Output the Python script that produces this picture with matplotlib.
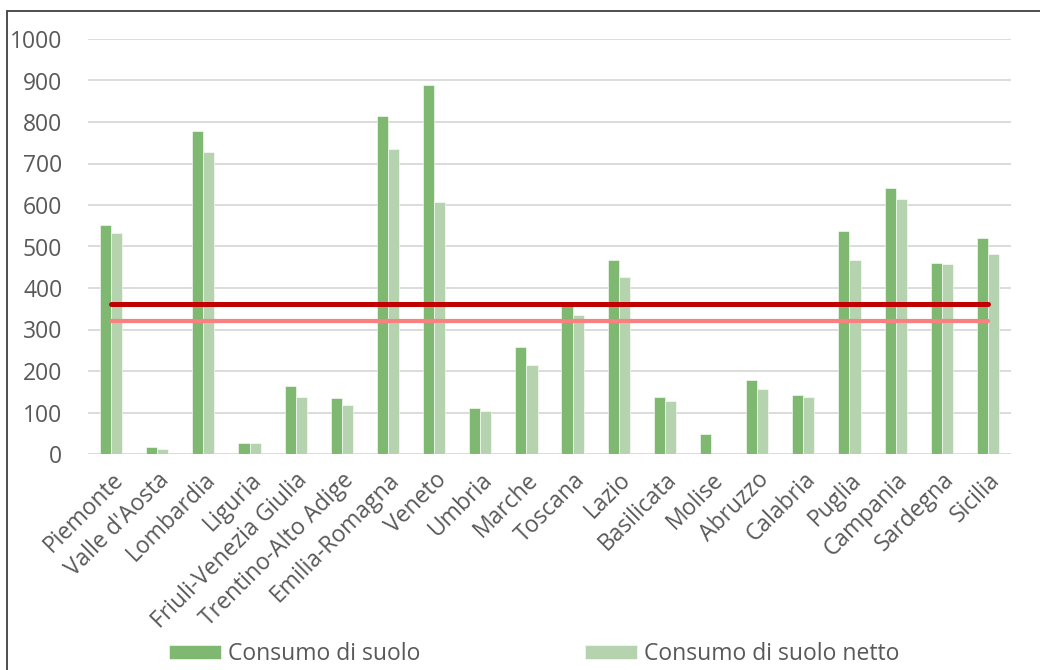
import matplotlib
matplotlib.use("Agg")
import matplotlib.pyplot as plt
import numpy as np
from matplotlib.patches import Rectangle

regions = ["Piemonte", "Valle d'Aosta", "Lombardia", "Liguria", "Friuli-Venezia Giulia",
           "Trentino-Alto Adige", "Emilia-Romagna", "Veneto", "Umbria", "Marche",
           "Toscana", "Lazio", "Basilicata", "Molise", "Abruzzo", "Calabria",
           "Puglia", "Campania", "Sardegna", "Sicilia"]
consumo = [552, 16, 779, 27, 163, 134, 814, 890, 111, 258,
           360, 468, 137, 49, 178, 141, 538, 642, 461, 520]
consumo_netto = [533, 12, 727, 26, 138, 118, 735, 608, 103, 215,
                 336, 427, 127, 1, 157, 137, 468, 615, 459, 482]
media_consumo = 362
media_netto = 321
yticks = [0, 100, 200, 300, 400, 500, 600, 700, 800, 900, 1000]

plt.rcParams["font.family"] = ["Open Sans", "DejaVu Sans"]
TEXT = "#595959"
DARK = "#7FB870"
LIGHT = "#B5D3AF"
FS = 16.5

fig = plt.figure(figsize=(10.4, 6.7), dpi=100)
ax = fig.add_axes([88 / 1040, 1 - 454 / 670, 923 / 1040, 415 / 670])

x = np.arange(len(regions))
w = 0.24
b1 = ax.bar(x - w / 2, consumo, w, color=DARK, edgecolor="white", linewidth=0.4,
            label="Consumo di suolo", zorder=2)
b2 = ax.bar(x + w / 2, consumo_netto, w, color=LIGHT, edgecolor="white", linewidth=0.4,
            label="Consumo di suolo netto", zorder=2)

ax.plot([x[0], x[-1]], [media_consumo] * 2, color="#C00000", lw=3.6,
        solid_capstyle="round", zorder=3)
ax.plot([x[0], x[-1]], [media_netto] * 2, color="#FA8080", lw=3.0,
        solid_capstyle="round", zorder=3)

ax.set_xlim(-0.5, len(regions) - 0.5)
ax.set_ylim(0, 1000)
ax.set_yticks(yticks)
ax.yaxis.grid(True, color="#D9D9D9", lw=1.3, zorder=0)
ax.set_axisbelow(True)
for s in ax.spines.values():
    s.set_visible(False)
ax.tick_params(axis="both", length=0, colors=TEXT, labelsize=FS)
ax.tick_params(axis="y", pad=18.5)
ax.set_xticks(x)
ax.set_xticklabels(regions, rotation=45, ha="right", va="top", rotation_mode="anchor")
ax.tick_params(axis="x", pad=10)

fig.legend(handles=[b1, b2], loc="center", bbox_to_anchor=(534 / 1040, 1 - 654 / 670),
           ncol=2, frameon=False, fontsize=FS, labelcolor=TEXT,
           handlelength=2.27, handleheight=0.61, handletextpad=0.3,
           columnspacing=7.2)

# outer chart frame, open towards right and bottom edges
fig.patches.append(Rectangle((7 / 1040, -0.05), 1.1, 1 - 11 / 670 + 0.05,
                             transform=fig.transFigure, fill=False,
                             edgecolor="#404040", lw=1.3))

fig.savefig("out.png", dpi=100)
